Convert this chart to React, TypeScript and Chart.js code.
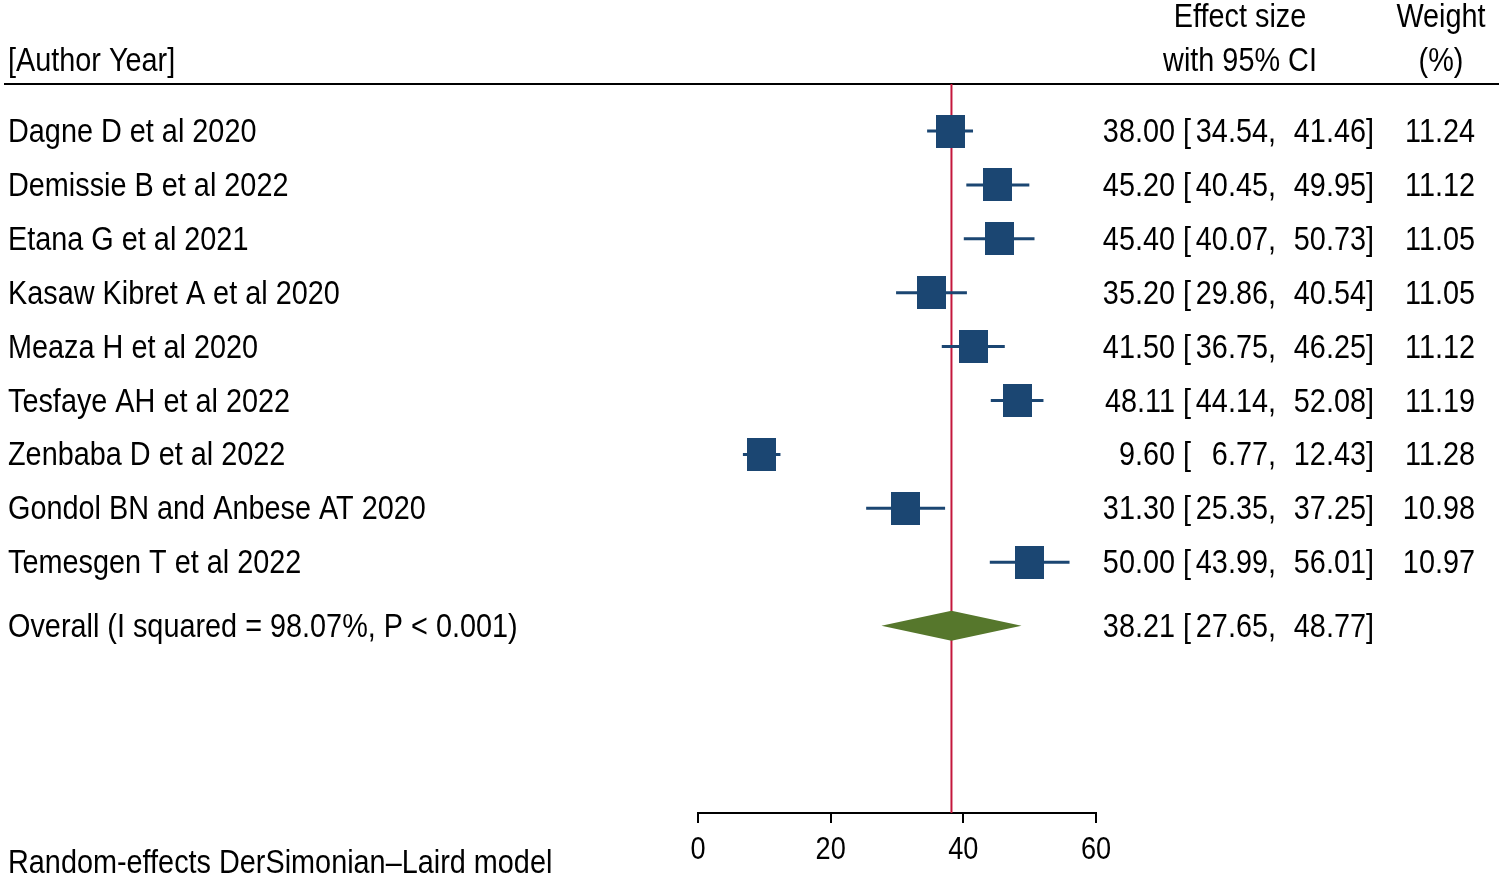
import React, { useEffect, useRef } from "react";
import { Chart, registerables } from "chart.js";
Chart.register(...registerables);

const studies = [
  "Dagne D et al 2020",
  "Demissie B et al 2022",
  "Etana G et al 2021",
  "Kasaw Kibret A et al 2020",
  "Meaza H et al 2020",
  "Tesfaye AH et al 2022",
  "Zenbaba D et al 2022",
  "Gondol BN and Anbese AT 2020",
  "Temesgen T et al 2022",
];
const effects = [38.0, 45.2, 45.4, 35.2, 41.5, 48.11, 9.6, 31.3, 50.0];
const lowerCI = [34.54, 40.45, 40.07, 29.86, 36.75, 44.14, 6.77, 25.35, 43.99];
const upperCI = [41.46, 49.95, 50.73, 40.54, 46.25, 52.08, 12.43, 37.25, 56.01];
const weights = [11.24, 11.12, 11.05, 11.05, 11.12, 11.19, 11.28, 10.98, 10.97];
const overallLabel = "Overall (I squared = 98.07%, P < 0.001)";
const overallEffect = 38.21;
const overallLower = 27.65;
const overallUpper = 48.77;
const xTicks = [0, 20, 40, 60];
const headerStudy = "[Author Year]";
const headerEffect = ["Effect size", "with 95% CI"];
const headerWeight = ["Weight", "(%)"];
const footnote = "Random-effects DerSimonian\u2013Laird model";

const FONT = '"Liberation Sans", Arial, sans-serif';
const TEXT_PX = 34;
const TICK_PX = 32;
const SQUEEZE = 0.848;
const NAVY = "#1b4672";
const GREEN = "#56772c";
const RED = "#c4173c";
const OVERALL_ROW = 9.18;

function boxImage(w: number): HTMLCanvasElement {
  const s = Math.sqrt(w / 11.1);
  const c = document.createElement("canvas");
  c.width = Math.round(29 * s);
  c.height = Math.round(33 * s);
  const g = c.getContext("2d")!;
  g.fillStyle = NAVY;
  g.fillRect(0, 0, c.width, c.height);
  return c;
}

function txt(ctx: CanvasRenderingContext2D, s: string, x: number, y: number, align: CanvasTextAlign) {
  ctx.save();
  ctx.translate(x, y);
  ctx.scale(SQUEEZE, 1);
  ctx.textAlign = align;
  ctx.fillText(s, 0, 0);
  ctx.restore();
}

const forestPlugin = {
  id: "forest",
  beforeDatasetsDraw(chart: any) {
    const { ctx, scales, chartArea, width } = chart;
    const xs = scales.x;
    const ys = scales.y;
    ctx.save();
    ctx.strokeStyle = "#000";
    ctx.lineWidth = 2;
    ctx.beginPath();
    ctx.moveTo(4, chartArea.top);
    ctx.lineTo(width, chartArea.top);
    ctx.stroke();
    const rx = xs.getPixelForValue(overallEffect);
    ctx.strokeStyle = RED;
    ctx.lineWidth = 2;
    ctx.beginPath();
    ctx.moveTo(rx, chartArea.top);
    ctx.lineTo(rx, chartArea.bottom);
    ctx.stroke();
    ctx.strokeStyle = NAVY;
    ctx.lineWidth = 3;
    for (let i = 0; i < effects.length; i++) {
      const y = ys.getPixelForValue(i);
      ctx.beginPath();
      ctx.moveTo(xs.getPixelForValue(lowerCI[i]), y);
      ctx.lineTo(xs.getPixelForValue(upperCI[i]), y);
      ctx.stroke();
    }
    const oy = ys.getPixelForValue(OVERALL_ROW);
    ctx.fillStyle = GREEN;
    ctx.beginPath();
    ctx.moveTo(xs.getPixelForValue(overallLower), oy);
    ctx.lineTo(rx, oy - 15);
    ctx.lineTo(xs.getPixelForValue(overallUpper), oy);
    ctx.lineTo(rx, oy + 15);
    ctx.closePath();
    ctx.fill();
    ctx.restore();
  },
  afterDatasetsDraw(chart: any) {
    const { ctx, scales, chartArea } = chart;
    const xs = scales.x;
    const ys = scales.y;
    ctx.save();
    ctx.fillStyle = "#000";
    ctx.font = `${TEXT_PX}px ${FONT}`;
    ctx.textBaseline = "alphabetic";
    const off = 11;
    txt(ctx, headerStudy, 8, 60 + off, "left");
    txt(ctx, headerEffect[0], 1240, 16 + off, "center");
    txt(ctx, headerEffect[1], 1240, 60 + off, "center");
    txt(ctx, headerWeight[0], 1441, 16 + off, "center");
    txt(ctx, headerWeight[1], 1441, 60 + off, "center");
    const row = (label: string, e: number, lo: number, hi: number, w: number | null, yv: number) => {
      const y = ys.getPixelForValue(yv) + off;
      txt(ctx, label, 8, y, "left");
      txt(ctx, e.toFixed(2), 1175, y, "right");
      txt(ctx, "[", 1183, y, "left");
      txt(ctx, lo.toFixed(2) + ",", 1276, y, "right");
      txt(ctx, hi.toFixed(2) + "]", 1374, y, "right");
      if (w !== null) txt(ctx, w.toFixed(2), 1475, y, "right");
    };
    for (let i = 0; i < studies.length; i++) {
      row(studies[i], effects[i], lowerCI[i], upperCI[i], weights[i], i);
    }
    row(overallLabel, overallEffect, overallLower, overallUpper, null, OVERALL_ROW);
    txt(ctx, footnote, 8, 862 + off, "left");
    ctx.font = `${TICK_PX}px ${FONT}`;
    for (const t of xs.ticks) {
      txt(ctx, String(t.value), xs.getPixelForValue(t.value), chartArea.bottom + 46, "center");
    }
    ctx.restore();
  },
};

export default function App() {
  const ref = useRef<HTMLCanvasElement | null>(null);
  useEffect(() => {
    if (!ref.current) return;
    const chart = new Chart(ref.current, {
      type: "scatter",
      data: {
        datasets: [
          {
            label: "Studies",
            data: effects.map((e, i) => ({ x: e, y: i })),
            pointStyle: weights.map((w) => boxImage(w)) as any,
            pointRadius: 16,
            pointHoverRadius: 16,
          },
        ],
      },
      options: {
        animation: false,
        responsive: false,
        events: [],
        layout: { padding: { left: 698, right: 403, top: 84, bottom: 0 } },
        plugins: { legend: { display: false }, tooltip: { enabled: false } },
        scales: {
          x: {
            type: "linear",
            min: 0,
            max: 60,
            afterBuildTicks: (s: any) => {
              s.ticks = xTicks.map((v) => ({ value: v }));
            },
            afterFit: (s: any) => {
              s.height = 63;
            },
            grid: { drawOnChartArea: false, drawTicks: true, tickLength: 10, color: "#000", lineWidth: 2 },
            border: { display: true, color: "#000", width: 2 },
            ticks: { display: false },
          },
          y: {
            type: "linear",
            reverse: true,
            min: -0.872,
            max: 12.653,
            display: false,
          },
        },
      },
      plugins: [forestPlugin],
    });
    return () => chart.destroy();
  }, []);
  return (
    <div style={{ position: "fixed", left: 0, top: 0, width: 1499, height: 876, background: "#fff" }}>
      <canvas ref={ref} width={1499} height={876} style={{ width: 1499, height: 876 }} />
    </div>
  );
}
